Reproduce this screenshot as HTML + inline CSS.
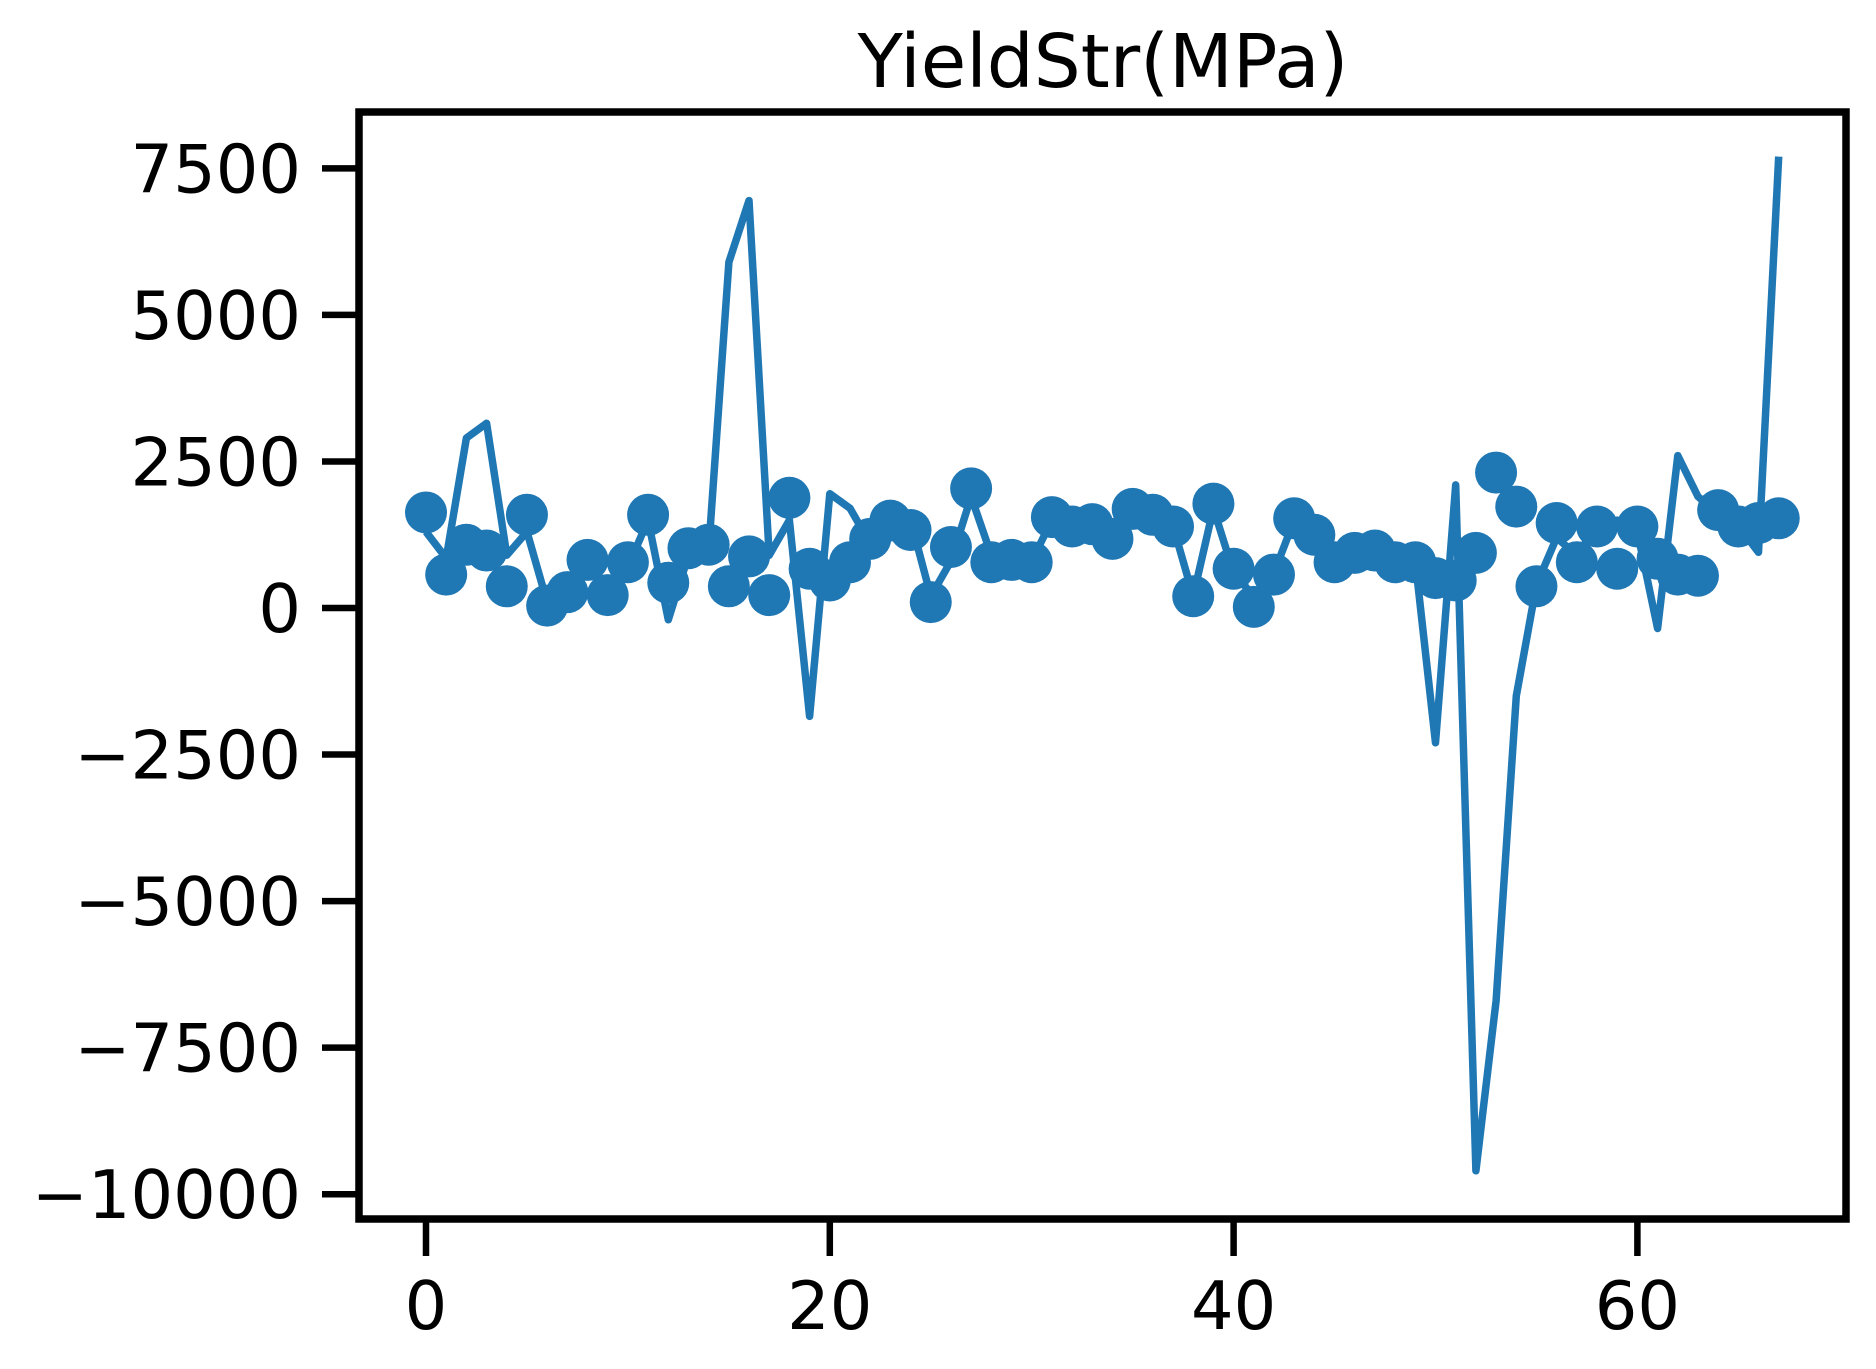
<!DOCTYPE html>
<html><head><meta charset="utf-8"><style>
html,body{margin:0;padding:0;background:#fff;}
svg{display:block;font-family:"DejaVu Sans","Liberation Sans",sans-serif;}
</style></head><body>
<svg id="chart" width="1876" height="1369" viewBox="0 0 1876 1369" xmlns="http://www.w3.org/2000/svg">
<rect width="1876" height="1369" fill="#fff"/>
<text x="1103" y="87" font-size="74" text-anchor="middle">YieldStr(MPa)</text>
<g id="plot"></g>
<g id="axes"></g>
</svg>
<script>
const lineValues = [1300,850,2900,3150,900,1300,100,300,700,400,700,1500,-200,900,1000,5900,6950,900,1500,-1850,1950,1700,1100,1400,1500,200,800,1900,900,800,800,1500,1400,1300,1200,1600,1500,1400,200,1700,600,200,600,1500,1100,800,900,900,800,800,-2300,2100,-9600,-6700,-1500,400,1200,900,1400,1500,1300,-350,2600,1900,1600,1400,950,7700];
const markerValues = [1630,570,1080,980,370,1590,40,270,820,220,780,1590,430,1020,1080,370,880,220,1880,670,470,780,1180,1490,1330,100,1040,2040,780,820,780,1550,1390,1430,1180,1690,1590,1390,200,1780,670,20,570,1530,1250,780,940,980,780,780,510,470,940,2310,1730,370,1450,780,1390,670,1390,840,570,550,1670,1390,1450,1530];
const xTicks = [0,20,40,60];
const yTicks = [7500,5000,2500,0,-2500,-5000,-7500,-10000];
const yTickLabels = ["7500","5000","2500","0","\u22122500","\u22125000","\u22127500","\u221210000"];

const NS="http://www.w3.org/2000/svg";
const L=359,R=1846,T=112,B=1219;
function xs(i){return 426+i*20.19;}
function ys(v){return 608-v*0.05862;}
const plot=document.getElementById('plot'), axes=document.getElementById('axes');
function mk(tag,attrs,parent){const e=document.createElementNS(NS,tag);for(const k in attrs)e.setAttribute(k,attrs[k]);parent.appendChild(e);return e;}

const pts=lineValues.map((v,i)=>xs(i).toFixed(1)+','+ys(v).toFixed(1)).join(' ');
const pl=mk('polyline',{points:pts,fill:'none',stroke:'#1f77b4','stroke-width':7.5,'stroke-linejoin':'round'},plot);


markerValues.forEach((v,i)=>{
  const c=mk('circle',{cx:xs(i),cy:ys(v),r:21,fill:'#1f77b4'},plot);
  
  
});

const fr=mk('rect',{x:L,y:T,width:R-L,height:B-T,fill:'none',stroke:'#000','stroke-width':7.5},axes);


yTicks.forEach((v,i)=>{
  const y=ys(v);
  const t=mk('line',{x1:L-37,x2:L,y1:y,y2:y,stroke:'#000','stroke-width':6.5},axes);
  
  
  const tx=mk('text',{x:301,y:y+24,'font-size':67,'text-anchor':'end'},axes);
  tx.textContent=yTickLabels[i];
  
  
});
xTicks.forEach(v=>{
  const x=xs(v);
  const t=mk('line',{x1:x,x2:x,y1:B,y2:B+37,stroke:'#000','stroke-width':6.5},axes);
  
  
  const tx=mk('text',{x:x,y:1329,'font-size':67,'text-anchor':'middle'},axes);
  tx.textContent=String(v);
  
  
});
</script>
</body></html>
